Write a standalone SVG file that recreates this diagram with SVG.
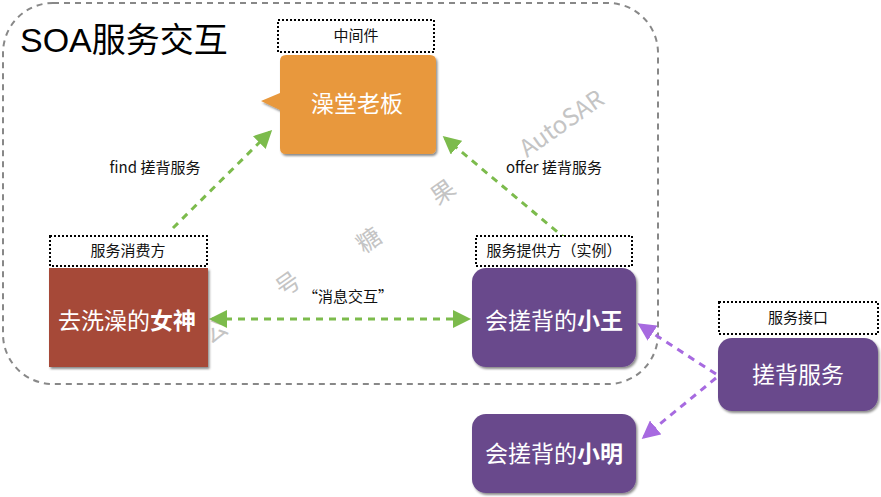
<svg xmlns="http://www.w3.org/2000/svg" width="881" height="497" viewBox="0 0 881 497">
<style>
.lbl{font-family:"Noto Sans CJK SC","Liberation Sans",sans-serif;font-size:15px;fill:#111;text-anchor:middle}
.tag{fill:#fff;stroke:#000;stroke-width:2;stroke-dasharray:2 2}
.node{font-family:"Noto Sans CJK SC","Liberation Sans",sans-serif;font-size:23px;fill:#fff;text-anchor:middle}
.wm{font-family:"Noto Sans CJK SC","Liberation Sans",sans-serif;font-size:24px;fill:#c4c4c4}
.g{stroke:#7cbb4c;stroke-width:3;stroke-dasharray:7 6;fill:none}
.p{stroke:#a76ae0;stroke-width:3;stroke-dasharray:7 6;fill:none}
</style>
<defs>
<marker id="ag" markerWidth="6" markerHeight="6" refX="5" refY="3" orient="auto-start-reverse" markerUnits="strokeWidth"><path d="M0,0 L6,3 L0,6 Z" fill="#7cbb4c"/></marker>
<marker id="ap" markerWidth="6" markerHeight="6" refX="5" refY="3" orient="auto-start-reverse" markerUnits="strokeWidth"><path d="M0,0 L6,3 L0,6 Z" fill="#a76ae0"/></marker>
<filter id="sh" x="-10%" y="-10%" width="125%" height="125%"><feDropShadow dx="1.5" dy="2" stdDeviation="1.2" flood-color="#000" flood-opacity="0.45"/></filter>
</defs>
<rect width="881" height="497" fill="#fff"/>
<rect x="3" y="3" width="655" height="381" rx="50" ry="50" fill="none" stroke="#888" stroke-width="2" stroke-dasharray="6 5"/>
<text x="20" y="52" font-family="Liberation Sans, Noto Sans CJK SC, sans-serif" font-size="34" fill="#000">SOA服务交互</text>

<g id="watermark">
<text class="wm" transform="translate(210,345) rotate(-35)">公</text>
<text class="wm" transform="translate(283,298) rotate(-35)">号</text>
<text class="wm" transform="translate(364,254) rotate(-35)">糖</text>
<text class="wm" transform="translate(438,206) rotate(-35)">果</text>
<text class="wm" transform="translate(527,158) rotate(-35)">AutoSAR</text>
</g>

<g id="connectors">
<line class="g" x1="173" y1="228" x2="270" y2="132" marker-end="url(#ag)"/>
<line class="g" x1="567" y1="240" x2="445" y2="138" marker-end="url(#ag)"/>
<line class="g" x1="212" y1="319" x2="468" y2="319" marker-start="url(#ag)" marker-end="url(#ag)"/>
<line class="p" x1="716" y1="374" x2="640" y2="325" marker-end="url(#ap)"/>
<line class="p" x1="716" y1="378" x2="644" y2="437" marker-end="url(#ap)"/>
<text class="lbl" x="155" y="173">find 搓背服务</text>
<text class="lbl" x="554" y="173">offer 搓背服务</text>
<text class="lbl" x="348" y="302">“消息交互”</text>
</g>

<g id="middleware">
<rect class="tag" x="278" y="20" width="156" height="32"/>
<text class="lbl" x="356" y="41">中间件</text>
<path d="M286,55 H430 Q436,55 436,61 V148 Q436,154 430,154 H286 Q280,154 280,148 V110 L261,101 L280,93 V61 Q280,55 286,55 Z" fill="#e8983c" filter="url(#sh)"/>
<text class="node" x="357" y="112">澡堂老板</text>
</g>

<g id="consumer">
<rect class="tag" x="50" y="236" width="157" height="30"/>
<text class="lbl" x="128" y="256">服务消费方</text>
<rect x="49" y="268" width="159" height="99" fill="#a64a38" filter="url(#sh)"/>
<text class="node" x="127" y="329">去洗澡的<tspan font-weight="bold">女神</tspan></text>
</g>

<g id="provider">
<rect class="tag" x="476" y="236" width="156" height="30"/>
<text class="lbl" x="554" y="256">服务提供方（实例）</text>
<rect x="472" y="268" width="164" height="99" rx="14" fill="#694a8c" filter="url(#sh)"/>
<text class="node" x="554" y="329">会搓背的<tspan font-weight="bold">小王</tspan></text>
</g>

<g id="interface">
<rect class="tag" x="719" y="302" width="159" height="32"/>
<text class="lbl" x="798" y="323">服务接口</text>
<rect x="718" y="338" width="160" height="73" rx="14" fill="#694a8c" filter="url(#sh)"/>
<text class="node" x="798" y="383">搓背服务</text>
</g>

<g id="xiaoming">
<rect x="472" y="414" width="164" height="79" rx="14" fill="#694a8c" filter="url(#sh)"/>
<text class="node" x="554" y="462">会搓背的<tspan font-weight="bold">小明</tspan></text>
</g>
</svg>
